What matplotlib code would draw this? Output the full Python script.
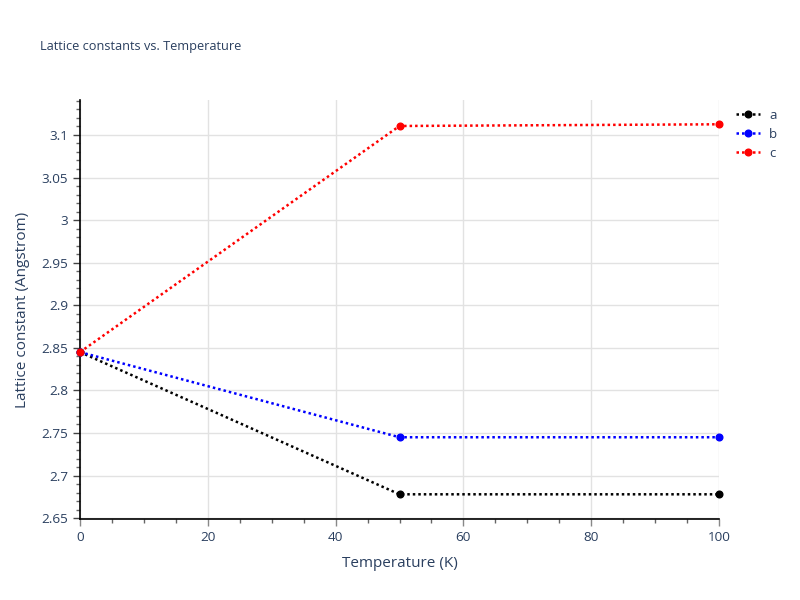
import matplotlib
matplotlib.use("Agg")
import matplotlib.pyplot as plt
from matplotlib.ticker import MultipleLocator

# Data
temperature = [0, 50, 100]
lattice_a = [2.845, 2.678, 2.678]
lattice_b = [2.845, 2.745, 2.745]
lattice_c = [2.845, 3.1105, 3.1125]
series_names = ["a", "b", "c"]
series_colors = ["black", "blue", "red"]

text_color = "#2a3f5f"
plt.rcParams['font.family'] = ['Open Sans', 'DejaVu Sans']

fig = plt.figure(figsize=(8, 6), dpi=100)
ax = fig.add_axes([0.1, 0.135, 0.79875, 0.6983])

for vals, name, col in zip([lattice_a, lattice_b, lattice_c], series_names, series_colors):
    ax.plot(temperature, vals, linestyle=(0, (1, 1.2)), linewidth=1.8, color=col,
            marker="o", markersize=4.8, label=name, zorder=3, clip_on=False)

ax.set_xlim(0, 100)
ax.set_ylim(2.649, 3.141)

ax.xaxis.set_major_locator(MultipleLocator(20))
ax.xaxis.set_minor_locator(MultipleLocator(5))
ax.yaxis.set_major_locator(MultipleLocator(0.05))
ax.yaxis.set_minor_locator(MultipleLocator(0.01))

ax.yaxis.set_major_formatter(plt.FuncFormatter(lambda v, p: f"{v:.2f}".rstrip("0").rstrip(".")))

ax.grid(True, which="major", color="#e2e2e2", linewidth=1)
ax.set_axisbelow(True)

for s in ["top", "right"]:
    ax.spines[s].set_visible(False)
for s in ["left", "bottom"]:
    ax.spines[s].set_color("black")
    ax.spines[s].set_linewidth(1.2)

ax.tick_params(axis="both", which="major", length=5, width=1, color="#888888",
               labelsize=9.7, labelcolor=text_color)
ax.tick_params(axis="both", which="minor", length=3, width=1, color="#666666")
ax.tick_params(axis="y", which="major", color="#444444")

ax.set_xlabel("Temperature (K)", fontsize=11, color=text_color, labelpad=9)
ax.set_ylabel("Lattice constant (Angstrom)", fontsize=11, color=text_color, labelpad=8)

fig.text(0.05, 0.923, "Lattice constants vs. Temperature", fontsize=9.2,
         color=text_color, va="center")

leg = ax.legend(loc="upper left", bbox_to_anchor=(1.008, 1.007), frameon=False,
                fontsize=9.5, handlelength=1.8, handletextpad=0.7, labelspacing=0.45)
for t in leg.get_texts():
    t.set_color(text_color)

fig.savefig("out.png", dpi=100)
